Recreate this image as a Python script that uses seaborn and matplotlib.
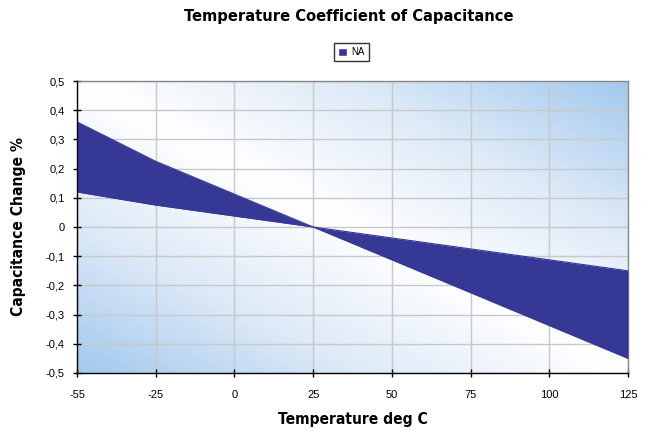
import numpy as np
import matplotlib
matplotlib.use("Agg")
import matplotlib.pyplot as plt
from matplotlib.colors import LinearSegmentedColormap
from matplotlib.patches import Patch
from matplotlib import font_manager
import seaborn as sns

temps = ["-55", "-25", "0", "25", "50", "75", "100", "125"]
upper = [0.36, 0.225, 0.1125, 0.0, -0.0375, -0.075, -0.1125, -0.15]
lower = [0.12, 0.075, 0.0375, 0.0, -0.1125, -0.225, -0.3375, -0.45]
yticks = [0.5, 0.4, 0.3, 0.2, 0.1, 0, -0.1, -0.2, -0.3, -0.4, -0.5]
ytick_labels = ["0,5", "0,4", "0,3", "0,2", "0,1", "0", "-0,1", "-0,2", "-0,3", "-0,4", "-0,5"]

sns.set_style("white")
plt.rcParams['font.family'] = ['Liberation Sans', 'DejaVu Sans']
plt.rcParams['text.color'] = 'black'
plt.rcParams['axes.labelcolor'] = 'black'
plt.rcParams['xtick.color'] = 'black'
plt.rcParams['ytick.color'] = 'black'

names = {f.name for f in font_manager.fontManager.ttflist}
cond = [f for f in font_manager.fontManager.ttflist
        if f.name == "DejaVu Sans" and f.stretch == "condensed" and f.weight == 700]
if "Liberation Sans Narrow" in names:
    head = dict(family="Liberation Sans Narrow", fontweight="bold")
elif cond:
    head = dict(family="DejaVu Sans", fontweight="bold", fontstretch="condensed")
else:
    head = dict(family="Liberation Sans", fontweight="bold")
hsize = 11.2

band = "#363895"

fig = plt.figure(figsize=(6.45, 4.3), dpi=100)
ax = fig.add_axes([0.1194, 0.1326, 0.8542, 0.679])

# diagonal blue/white background
u, v = np.meshgrid(np.linspace(0, 1, 300), np.linspace(0, 1, 200))
grad = np.abs(u + v - 1)
cmap = LinearSegmentedColormap.from_list("bg", ["#ffffff", "#dce9f7", "#a2c9ee"])
ax.imshow(grad, cmap=cmap, origin="lower", extent=[0, 1, 0, 1],
          transform=ax.transAxes, aspect="auto", zorder=0)

x = np.arange(len(temps))
ax.fill_between(x, lower, upper, color=band, linewidth=0, zorder=3)
sns.lineplot(x=x, y=upper, color=band, lw=0.8, ax=ax, zorder=3)
sns.lineplot(x=x, y=lower, color=band, lw=0.8, ax=ax, zorder=3)

ax.set_xlim(0, len(temps) - 1)
ax.set_ylim(-0.5, 0.5)
ax.set_xticks(x)
ax.set_xticklabels(temps)
ax.set_yticks(yticks)
ax.set_yticklabels(ytick_labels)
ax.grid(True, color="#c8c8c8", lw=1)
for gl in ax.get_xgridlines() + ax.get_ygridlines():
    gl.set_zorder(1)

ax.tick_params(axis="both", direction="inout", length=6, width=1, color="black",
               labelsize=8, pad=6, bottom=True, left=True)
ax.tick_params(axis="x", pad=9)
for side in ["left", "bottom"]:
    ax.spines[side].set_color("black")
    ax.spines[side].set_linewidth(1)
    ax.spines[side].set_zorder(5)
for side in ["top", "right"]:
    ax.spines[side].set_color("#888888")
    ax.spines[side].set_linewidth(1)

fig.text(0.541, 0.962, "Temperature Coefficient of Capacitance", ha="center", va="center",
         fontsize=hsize + 0.6, **head)
ax.set_xlabel("Temperature deg C", fontsize=hsize, labelpad=9, **head)
ax.set_ylabel("Capacitance Change %", fontsize=hsize, labelpad=14, **head)

leg = fig.legend(handles=[Patch(facecolor=band, label="NA")], loc="center",
                 bbox_to_anchor=(0.545, 0.879), fontsize=7, frameon=True, fancybox=False,
                 handlelength=0.9, handleheight=0.9, borderpad=0.4, handletextpad=0.5)
leg.get_frame().set_edgecolor("black")
leg.get_frame().set_linewidth(1)

fig.savefig("out.png", dpi=100)
